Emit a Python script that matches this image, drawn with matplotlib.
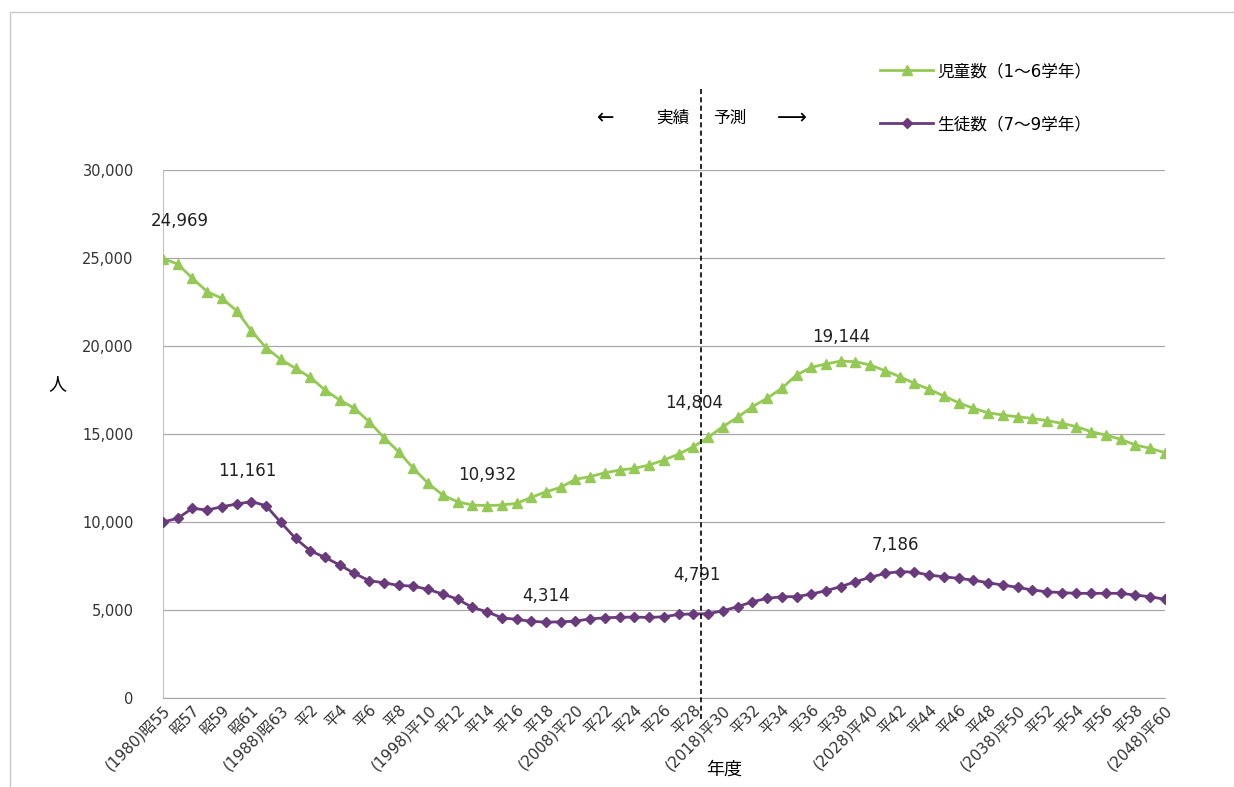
import numpy as np
import matplotlib
matplotlib.use("Agg")
import matplotlib.pyplot as plt
from matplotlib.lines import Line2D
from matplotlib.patches import Rectangle

plt.rcParams['font.family'] = ['DejaVu Sans', 'Noto Sans CJK JP']

# 年度 (1980 = 昭55 ... 2048 = 平60)
years = np.arange(1980, 2049)

# 児童数（1～6学年）
jidou = [24969, 24660, 23850, 23090, 22710, 22010, 20870, 19900, 19240, 18730,
         18220, 17500, 16930, 16460, 15700, 14800, 13990, 13050, 12200, 11530,
         11150, 10970, 10932, 10970, 11060, 11400, 11720, 11970, 12430, 12580,
         12800, 12950, 13050, 13240, 13520, 13860, 14280, 14804, 15420, 15950,
         16550, 17030, 17600, 18350, 18790, 18980, 19144, 19110, 18920, 18600,
         18260, 17880, 17540, 17160, 16780, 16460, 16210, 16080, 15980, 15890,
         15760, 15610, 15420, 15130, 14940, 14700, 14380, 14190, 13940]

# 生徒数（7～9学年）
seito = [10000, 10210, 10780, 10680, 10870, 11020, 11161, 10930, 9980, 9070,
         8370, 7990, 7560, 7080, 6670, 6550, 6400, 6360, 6170, 5910,
         5620, 5150, 4900, 4560, 4470, 4360, 4314, 4330, 4370, 4500,
         4560, 4590, 4600, 4580, 4620, 4750, 4780, 4791, 4960, 5190,
         5470, 5660, 5760, 5760, 5910, 6100, 6330, 6610, 6860, 7080,
         7186, 7150, 6990, 6890, 6800, 6700, 6550, 6420, 6290, 6140,
         6040, 5990, 5950, 5950, 5950, 5950, 5850, 5760, 5610]

tick_years = np.arange(1980, 2049, 2)
tick_labels = ['(1980)昭55', '昭57', '昭59', '昭61', '(1988)昭63',
               '平2', '平4', '平6', '平8', '(1998)平10', '平12', '平14', '平16', '平18',
               '(2008)平20', '平22', '平24', '平26', '平28', '(2018)平30',
               '平32', '平34', '平36', '平38', '(2028)平40', '平42', '平44', '平46', '平48',
               '(2038)平50', '平52', '平54', '平56', '平58', '(2048)平60']

# 数値ラベル: (年, x方向のずれ, y方向のずれ) ずれは points
green_notes = [(1980, 12, 27), (2002, 0, 22), (2017, -10, 25), (2026, 0, 17)]
purple_notes = [(1986, -3, 22), (2006, 0, 19), (2017, -8, 28), (2030, -3, 19)]

green = '#95C955'
purple = '#6A3B7C'

fig = plt.figure(figsize=(12.34, 7.87), dpi=100)
ax = fig.add_axes([0.132, 0.113, 0.812, 0.671])

ax.plot(years, jidou, color=green, lw=2, marker='^', ms=6.5, label='児童数（1～6学年）', zorder=3)
ax.plot(years, seito, color=purple, lw=2, marker='D', ms=5, label='生徒数（7～9学年）', zorder=3)

ax.set_xlim(1980, 2048)
ax.set_ylim(0, 30000)
ax.set_yticks(np.arange(0, 30001, 5000))
ax.set_yticklabels([f'{v:,}' for v in range(0, 30001, 5000)], fontsize=10.5, color='#333333')
ax.set_xticks(tick_years)
ax.set_xticklabels(tick_labels, rotation=45, ha='right', rotation_mode='anchor',
                   fontsize=11, color='#333333')
ax.tick_params(axis='both', length=0)
ax.tick_params(axis='y', pad=21)
ax.tick_params(axis='x', pad=3)

ax.grid(axis='y', color='#A8A8A8', lw=0.9)
ax.set_axisbelow(True)
for s in ['top', 'right']:
    ax.spines[s].set_visible(False)
ax.spines['left'].set_color('#C0C0C0')
ax.spines['bottom'].set_color('#A8A8A8')

# 実績 / 予測 の境界
ax.axvline(2016.5, ymin=-0.04, ymax=1.155, color='black', lw=1.2,
           linestyle=(0, (3, 2)), clip_on=False, zorder=4)

for yr, dx, dy in green_notes:
    v = jidou[yr - 1980]
    ax.annotate(f'{v:,}', (yr, v), xytext=(dx, dy), textcoords='offset points',
                ha='center', va='center', fontsize=12, color='#222222')
for yr, dx, dy in purple_notes:
    v = seito[yr - 1980]
    ax.annotate(f'{v:,}', (yr, v), xytext=(dx, dy), textcoords='offset points',
                ha='center', va='center', fontsize=12, color='#222222')

ax.text(-0.105, 0.595, '人', transform=ax.transAxes, fontsize=13, ha='center', va='center')
ax.text(0.56, -0.135, '年度', transform=ax.transAxes, fontsize=13, ha='center', va='center')

fig.text(0.491, 0.85, '←', fontsize=15, ha='center', va='center')
fig.text(0.545, 0.85, '実績', fontsize=12, ha='center', va='center')
fig.text(0.591, 0.85, '予測', fontsize=12, ha='center', va='center')
fig.text(0.642, 0.85, '⟶', fontsize=15, ha='center', va='center')

handles = [Line2D([], [], color=green, lw=2, marker='^', ms=6.5),
           Line2D([], [], color=purple, lw=2, marker='D', ms=5)]
fig.legend(handles, ['児童数（1～6学年）', '生徒数（7～9学年）'],
           loc='upper left', bbox_to_anchor=(0.701, 0.94), frameon=False,
           fontsize=12, labelspacing=2.1, handlelength=3.2, handletextpad=0.25)

fig.patches.append(Rectangle((0.008, -0.1), 1.1, 1.085, transform=fig.transFigure,
                             fill=False, edgecolor='#C8C8C8', lw=1))

fig.savefig('out.png', dpi=100)
